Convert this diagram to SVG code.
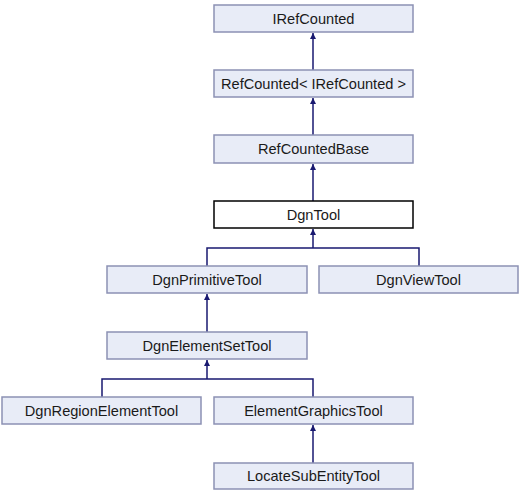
<svg xmlns="http://www.w3.org/2000/svg" width="520" height="493" viewBox="0 0 520 493">
<style>
.n rect{fill:#e8ecf7;stroke:#8c91b4;stroke-width:1.5}
.n.w rect{fill:#ffffff;stroke:#000000}
.n text{font-family:"Liberation Sans",Arial,sans-serif;font-size:14.6px;fill:#1a1a1a;text-anchor:middle}
.e path{fill:none;stroke:#191970;stroke-width:1.5}
</style>
<defs>
<marker id="a" viewBox="0 0 10 10" refX="10" refY="5" markerWidth="6" markerHeight="6" orient="auto" markerUnits="userSpaceOnUse">
<path d="M0,0 L10,5 L0,10 z" fill="#191970"/>
</marker>
</defs>
<rect x="0" y="0" width="520" height="493" fill="#ffffff"/>
<g id="connectors" class="e">
<path d="M313,70 V33" marker-end="url(#a)"/>
<path d="M313,135 V98" marker-end="url(#a)"/>
<path d="M313,201 V164" marker-end="url(#a)"/>
<path d="M207,266 V248 H419 V266"/>
<path d="M313,248 V229" marker-end="url(#a)"/>
<path d="M207,332 V294" marker-end="url(#a)"/>
<path d="M102,397 V379 H313 V397"/>
<path d="M207,379 V360" marker-end="url(#a)"/>
<path d="M313,463 V425" marker-end="url(#a)"/>
</g>
<g id="IRefCounted" class="n"><rect x="214" y="5" width="199" height="27"/><text x="313.5" y="23.5">IRefCounted</text></g>
<g id="RefCounted" class="n"><rect x="214" y="70" width="199" height="27"/><text x="313.5" y="88.5">RefCounted&lt; IRefCounted &gt;</text></g>
<g id="RefCountedBase" class="n"><rect x="214" y="135" width="199" height="28"/><text x="313.5" y="154">RefCountedBase</text></g>
<g id="DgnTool" class="n w"><rect x="214" y="201" width="199" height="27"/><text x="313.5" y="219.5">DgnTool</text></g>
<g id="DgnPrimitiveTool" class="n"><rect x="107" y="266" width="200" height="27"/><text x="207" y="284.5">DgnPrimitiveTool</text></g>
<g id="DgnViewTool" class="n"><rect x="319" y="266" width="199" height="27"/><text x="418.5" y="284.5">DgnViewTool</text></g>
<g id="DgnElementSetTool" class="n"><rect x="107" y="332" width="200" height="27"/><text x="207" y="350.5">DgnElementSetTool</text></g>
<g id="DgnRegionElementTool" class="n"><rect x="2" y="397" width="199" height="27"/><text x="101.5" y="415.5">DgnRegionElementTool</text></g>
<g id="ElementGraphicsTool" class="n"><rect x="214" y="397" width="199" height="27"/><text x="313.5" y="415.5">ElementGraphicsTool</text></g>
<g id="LocateSubEntityTool" class="n"><rect x="214" y="463" width="199" height="26"/><text x="313.5" y="481">LocateSubEntityTool</text></g>
</svg>
